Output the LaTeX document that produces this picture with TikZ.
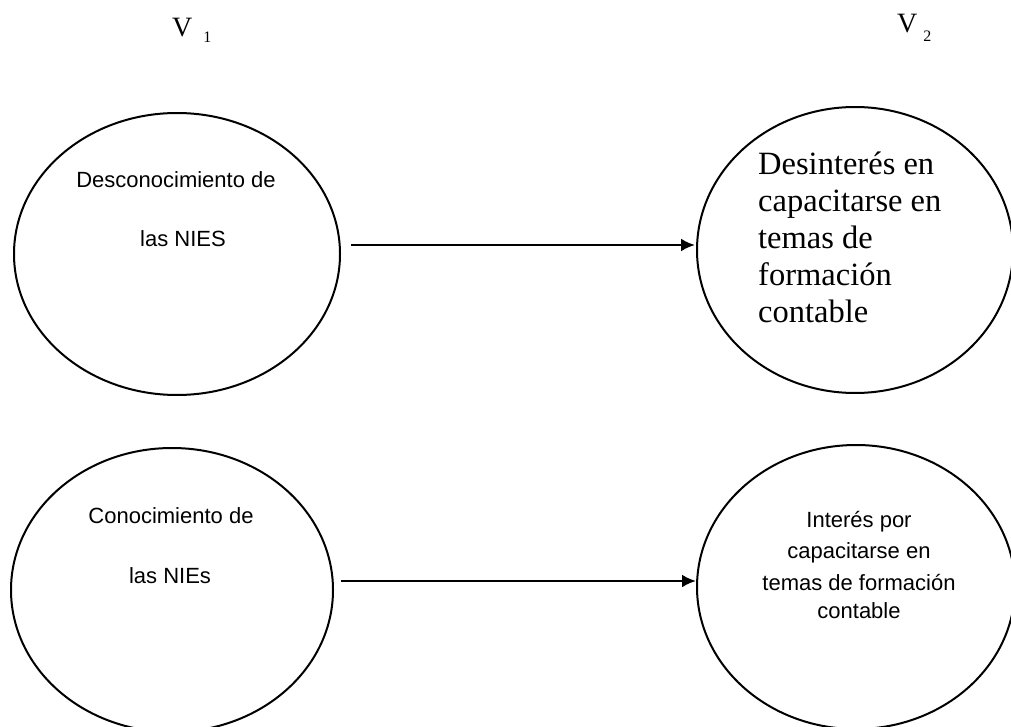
\documentclass[tikz,border=0pt]{standalone}
\usepackage{fontspec}
\setmainfont{Liberation Serif}
\newfontfamily\arialf{Liberation Sans}
\usetikzlibrary{shapes.geometric,arrows.meta}
\begin{document}
\begin{tikzpicture}[x=1pt,y=-1pt,
  oval/.style={draw,ellipse,line width=2pt,inner sep=0pt},
  conn/.style={line width=2.6pt,-{Latex[length=14pt,width=13pt]}},
  sanslbl/.style={font=\arialf\fontsize{22}{26}\selectfont,inner sep=0pt,anchor=base},
  serlbl/.style={font=\fontsize{32.5}{36}\selectfont,inner sep=0pt,anchor=base west},
  vlbl/.style={font=\fontsize{28}{30}\selectfont,inner sep=0pt,anchor=base west}]
\useasboundingbox[fill=white] (0,0) rectangle (1011,727);
% variable headings
\node[vlbl] (v1) at (172,37) {V\hspace{11pt}\raisebox{-6pt}{\fontsize{16}{16}\selectfont 1}};
\node[vlbl] (v2) at (897,33) {V\hspace{6pt}\raisebox{-9pt}{\fontsize{16}{16}\selectfont 2}};
% ellipses
\node[oval,minimum width=326pt,minimum height=282pt] (e1) at (177,254) {};
\node[oval,minimum width=316pt,minimum height=286pt] (e2) at (855,250) {};
\node[oval,minimum width=322pt,minimum height=284pt] (e3) at (172,590) {};
\node[oval,minimum width=318pt,minimum height=284pt] (e4) at (856,587) {};
% texts
\node[sanslbl] (t1a) at (176,188) {Desconocimiento de};
\node[sanslbl] (t1b) at (183,247) {las NIES};
\node[serlbl] (t2a) at (758,175) {Desinterés en};
\node[serlbl] (t2b) at (758,212) {capacitarse en};
\node[serlbl] (t2c) at (758,248) {temas de};
\node[serlbl] (t2d) at (758,285) {formación};
\node[serlbl] (t2e) at (758,322) {contable};
\node[sanslbl] (t3a) at (171,523) {Conocimiento de};
\node[sanslbl] (t3b) at (170,583) {las NIEs};
\node[sanslbl] (t4a) at (859,527) {Interés por};
\node[sanslbl] (t4b) at (859,558) {capacitarse en};
\node[sanslbl] (t4c) at (859,590) {temas de formación};
\node[sanslbl] (t4d) at (859,618) {contable};
% connectors
\draw[conn] ([shift={(10,-9)}]e1.east) -- ([shift={(-1,-5)}]e2.west);
\draw[conn] ([shift={(7,-9)}]e3.east) -- ([shift={(0,-6)}]e4.west);
\end{tikzpicture}
\end{document}
